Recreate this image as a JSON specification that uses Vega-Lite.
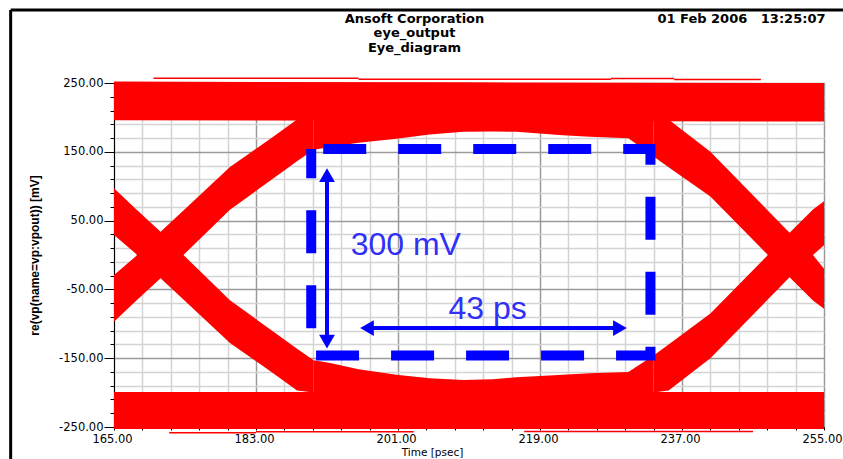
{
  "$schema": "https://vega.github.io/schema/vega-lite/v6.json",
  "width": 710,
  "height": 344,
  "autosize": {"type": "none"},
  "padding": {"left": 114, "top": 83, "right": 19, "bottom": 32},
  "background": "#ffffff",
  "config": {
    "view": {"stroke": "#1a1a1a", "strokeWidth": 1},
    "axis": {"labelColor": "#000000", "titleColor": "#000000", "tickColor": "#000000", "domainColor": "#000000"}
  },
  "datasets": {
    "bands": [
      {"band": "high", "t": 165, "v": 196, "v2": 252},
      {"band": "high", "t": 210, "v": 195, "v2": 251},
      {"band": "high", "t": 255, "v": 194, "v2": 250},
      {"band": "low", "t": 165, "v": -253, "v2": -199},
      {"band": "low", "t": 255, "v": -253, "v2": -199},
      {"band": "rise1", "t": 165, "v": -97, "v2": -29},
      {"band": "rise1", "t": 167.7, "v": -67.6, "v2": -2.4},
      {"band": "rise1", "t": 170.7, "v": -36, "v2": 31.5},
      {"band": "rise1", "t": 173.8, "v": 0, "v2": 64.7},
      {"band": "rise1", "t": 179.7, "v": 65.6, "v2": 128},
      {"band": "rise1", "t": 185, "v": 109.9, "v2": 170.4},
      {"band": "rise1", "t": 188.2, "v": 136.4, "v2": 197},
      {"band": "rise1", "t": 190.3, "v": 153, "v2": 200},
      {"band": "roof", "t": 190.3, "v": 153, "v2": 200},
      {"band": "roof", "t": 192.4, "v": 157, "v2": 200},
      {"band": "roof", "t": 196, "v": 163, "v2": 200},
      {"band": "roof", "t": 200.8, "v": 169, "v2": 200},
      {"band": "roof", "t": 205, "v": 175, "v2": 200},
      {"band": "roof", "t": 209.3, "v": 179, "v2": 200},
      {"band": "roof", "t": 213, "v": 179.5, "v2": 200},
      {"band": "roof", "t": 216, "v": 179, "v2": 200},
      {"band": "roof", "t": 221.9, "v": 174, "v2": 200},
      {"band": "roof", "t": 225.3, "v": 172, "v2": 200},
      {"band": "roof", "t": 230.2, "v": 169.6, "v2": 200},
      {"band": "roof", "t": 233.4, "v": 143, "v2": 200},
      {"band": "fall2", "t": 233.4, "v": 143, "v2": 200},
      {"band": "fall2", "t": 235.3, "v": 127.7, "v2": 197},
      {"band": "fall2", "t": 240.6, "v": 85, "v2": 150},
      {"band": "fall2", "t": 247.9, "v": 0, "v2": 64.4},
      {"band": "fall2", "t": 250.7, "v": -33, "v2": 31.5},
      {"band": "fall2", "t": 253.6, "v": -66, "v2": 0},
      {"band": "fall2", "t": 255, "v": -78, "v2": -20},
      {"band": "fall1", "t": 165, "v": 29, "v2": 97},
      {"band": "fall1", "t": 167.7, "v": 2.4, "v2": 67.6},
      {"band": "fall1", "t": 170.7, "v": -31.5, "v2": 36},
      {"band": "fall1", "t": 173.8, "v": -64.7, "v2": 0},
      {"band": "fall1", "t": 179.7, "v": -128, "v2": -65.6},
      {"band": "fall1", "t": 185, "v": -170.4, "v2": -109.9},
      {"band": "fall1", "t": 188.2, "v": -197, "v2": -136.4},
      {"band": "fall1", "t": 190.3, "v": -200, "v2": -153},
      {"band": "floor", "t": 190.3, "v": -200, "v2": -153},
      {"band": "floor", "t": 192.4, "v": -200, "v2": -157},
      {"band": "floor", "t": 196, "v": -200, "v2": -166},
      {"band": "floor", "t": 200.8, "v": -200, "v2": -174},
      {"band": "floor", "t": 205, "v": -200, "v2": -179},
      {"band": "floor", "t": 209.3, "v": -200, "v2": -181.7},
      {"band": "floor", "t": 213, "v": -200, "v2": -180.5},
      {"band": "floor", "t": 216, "v": -200, "v2": -177.8},
      {"band": "floor", "t": 221.9, "v": -200, "v2": -174},
      {"band": "floor", "t": 225.3, "v": -200, "v2": -172},
      {"band": "floor", "t": 230.2, "v": -200, "v2": -170.2},
      {"band": "floor", "t": 233.4, "v": -200, "v2": -146},
      {"band": "rise2", "t": 233.4, "v": -200, "v2": -146},
      {"band": "rise2", "t": 235.3, "v": -197, "v2": -130},
      {"band": "rise2", "t": 240.6, "v": -150, "v2": -85},
      {"band": "rise2", "t": 247.9, "v": -64.4, "v2": 0},
      {"band": "rise2", "t": 250.7, "v": -31.5, "v2": 33},
      {"band": "rise2", "t": 253.6, "v": 0, "v2": 66},
      {"band": "rise2", "t": 255, "v": 14, "v2": 78}
    ],
    "strays": [
      {"t": 170, "t2": 196, "v": 257, "v2": 257},
      {"t": 196, "t2": 228, "v": 255.5, "v2": 255.5},
      {"t": 228, "t2": 236, "v": 256.5, "v2": 256.5},
      {"t": 236, "t2": 247, "v": 255, "v2": 255},
      {"t": 172, "t2": 183, "v": -258.5, "v2": -258.5},
      {"t": 183, "t2": 203, "v": -257, "v2": -257},
      {"t": 217, "t2": 246, "v": -256.5, "v2": -256.5}
    ],
    "frame": [
      {"t": 151.9, "t2": 151.9, "v": 356, "v2": -330},
      {"t": 151.9, "t2": 257.5, "v": 356, "v2": 356}
    ],
    "box": [
      {"t": 190, "t2": 233, "v": 154, "v2": -146}
    ],
    "shafts": [
      {"t": 192, "t2": 192, "v": 116, "v2": -126},
      {"t": 197.07, "t2": 229.13, "v": -106.2, "v2": -106.2}
    ],
    "heads": [
      {"t": 192, "v": 116, "shape": "triangle-up"},
      {"t": 192, "v": -126, "shape": "triangle-down"},
      {"t": 197.07, "v": -106.2, "shape": "triangle-left"},
      {"t": 229.13, "v": -106.2, "shape": "triangle-right"}
    ],
    "notes": [
      {"t": 195, "v": 0, "label": "300 mV"},
      {"t": 207.4, "v": -92.5, "label": "43 ps"}
    ]
  },
  "layer": [
    {
      "encoding": {
        "x": {
          "field": "t",
          "type": "quantitative",
          "scale": {"domain": [165, 255], "nice": false, "zero": false},
          "axis": {
            "orient": "bottom",
            "values": [165, 168.6, 172.2, 175.8, 179.4, 183, 186.6, 190.2, 193.8, 197.4, 201, 204.6, 208.2, 211.8, 215.4, 219, 222.6, 226.2, 229.8, 233.4, 237, 240.6, 244.2, 247.8, 251.4, 255],
            "labelExpr": "abs((datum.value - 165) / 18 - round((datum.value - 165) / 18)) < 0.001 ? format(datum.value, '.2f') : ''",
            "labelFlush": false,
            "labelOverlap": false,
            "labelFont": "DejaVu Sans",
            "labelFontSize": 11.5,
            "labelPadding": 3,
            "labelOffset": -2,
            "tickSize": 3,
            "grid": true,
            "gridColor": {"condition": {"test": "abs((datum.value - 165) / 18 - round((datum.value - 165) / 18)) < 0.001", "value": "#9a9a9a"}, "value": "#d4d4d4"},
            "gridWidth": 1.5,
            "title": "Time [psec]",
            "titleFont": "DejaVu Sans",
            "titleFontSize": 10.5,
            "titleFontWeight": "normal",
            "titleX": 318,
            "titleY": 25,
            "titleAlign": "center",
            "titleBaseline": "middle"
          }
        },
        "y": {
          "field": "v",
          "type": "quantitative",
          "scale": {"domain": [-250, 250], "nice": false, "zero": false},
          "axis": {
            "orient": "left",
            "values": [-250, -230, -210, -190, -170, -150, -130, -110, -90, -70, -50, -30, -10, 10, 30, 50, 70, 90, 110, 130, 150, 170, 190, 210, 230, 250],
            "labelExpr": "(datum.value + 250) % 100 === 0 ? (datum.value < 0 ? '-' : '') + format(abs(datum.value), '.2f') : ''",
            "labelOverlap": false,
            "labelFont": "DejaVu Sans",
            "labelFontSize": 11.5,
            "labelPadding": 1,
            "tickSize": {"condition": {"test": "(datum.value + 250) % 100 === 0", "value": 10}, "value": 4},
            "grid": true,
            "gridColor": {"condition": {"test": "(datum.value + 250) % 100 === 0", "value": "#9a9a9a"}, "value": "#d4d4d4"},
            "gridWidth": 1.5,
            "title": "re(vp(name=vp:vpout)) [mV]",
            "titleFont": "Liberation Sans",
            "titleFontSize": 12,
            "titleFontWeight": "bold",
            "titleAngle": -90,
            "titleX": -80,
            "titleY": 172,
            "titleAlign": "center",
            "titleBaseline": "middle"
          }
        }
      },
      "layer": [
        {
          "data": {"name": "bands"},
          "mark": {"type": "area", "color": "#ff0000", "interpolate": "linear", "clip": false},
          "encoding": {
            "y2": {"field": "v2"},
            "detail": {"field": "band", "type": "nominal"}
          }
        },
        {
          "data": {"name": "strays"},
          "mark": {"type": "rule", "color": "#ff0000", "strokeWidth": 1.5},
          "encoding": {
            "x2": {"field": "t2"},
            "y2": {"field": "v2"}
          }
        }
      ]
    },
    {
      "encoding": {
        "x": {
          "field": "t",
          "type": "quantitative",
          "scale": {"domain": [165, 255], "nice": false, "zero": false},
          "axis": {
            "orient": "top",
            "labels": false,
            "ticks": false,
            "domain": false,
            "grid": false,
            "title": ["Ansoft Corporation", "eye_output", "Eye_diagram"],
            "titleFont": "DejaVu Sans",
            "titleFontSize": 13,
            "titleFontWeight": "bold",
            "titleLineHeight": 14.5,
            "titleX": 300,
            "titleY": -65,
            "titleAlign": "center",
            "titleBaseline": "middle"
          }
        },
        "y": {
          "field": "v",
          "type": "quantitative",
          "scale": {"domain": [-250, 250], "nice": false, "zero": false},
          "axis": {
            "orient": "right",
            "labels": false,
            "ticks": false,
            "domain": false,
            "grid": false,
            "title": "01 Feb 2006\u00a0\u00a0\u00a013:25:07",
            "titleFont": "DejaVu Sans",
            "titleFontSize": 13,
            "titleFontWeight": "bold",
            "titleAngle": 0,
            "titleX": 1,
            "titleY": -65,
            "titleAlign": "right",
            "titleBaseline": "middle"
          }
        }
      },
      "layer": [
        {
          "data": {"name": "frame"},
          "mark": {"type": "rule", "color": "#000000", "strokeWidth": 3},
          "encoding": {"x2": {"field": "t2"}, "y2": {"field": "v2"}}
        },
        {
          "data": {"name": "box"},
          "mark": {"type": "rect", "filled": false, "color": "#0000ff", "strokeWidth": 10, "strokeDash": [43, 32], "strokeDashOffset": 63},
          "encoding": {"x2": {"field": "t2"}, "y2": {"field": "v2"}}
        },
        {
          "data": {"name": "shafts"},
          "mark": {"type": "rule", "color": "#0000ff", "strokeWidth": 4},
          "encoding": {"x2": {"field": "t2"}, "y2": {"field": "v2"}}
        },
        {
          "data": {"name": "heads"},
          "mark": {"type": "point", "filled": true, "size": 250, "color": "#0000ff", "opacity": 1},
          "encoding": {"shape": {"field": "shape", "type": "nominal", "scale": null}}
        },
        {
          "data": {"name": "notes"},
          "mark": {"type": "text", "font": "Liberation Sans", "fontSize": 32, "align": "left", "baseline": "alphabetic", "color": "#3030f8"},
          "encoding": {"text": {"field": "label", "type": "nominal"}}
        }
      ]
    }
  ],
  "resolve": {"axis": {"x": "independent", "y": "independent"}}
}
